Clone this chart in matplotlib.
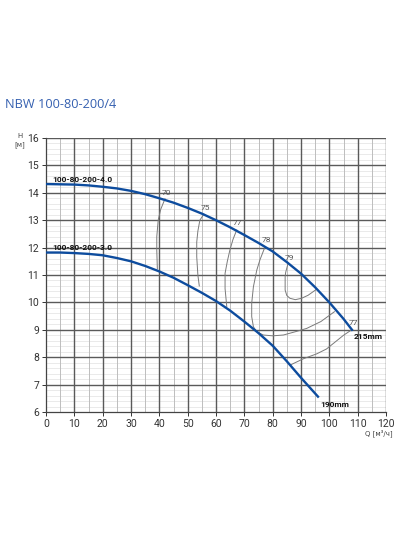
import matplotlib
matplotlib.use("Agg")
import matplotlib.pyplot as plt
import numpy as np

# ---- data ----
q_215 = [0, 5, 10, 15, 20, 25, 30, 35, 40, 45, 50, 55, 60, 65, 70, 75, 80, 85, 90, 95, 100, 105, 108]
h_215 = [14.32, 14.31, 14.3, 14.27, 14.22, 14.16, 14.07, 13.95, 13.8, 13.64, 13.45, 13.24, 13.0,
         12.74, 12.46, 12.17, 11.86, 11.47, 11.05, 10.55, 10.0, 9.4, 9.0]
q_190 = [0, 5, 10, 15, 20, 25, 30, 35, 40, 45, 50, 55, 60, 65, 70, 75, 80, 85, 90, 96]
h_190 = [11.82, 11.82, 11.8, 11.77, 11.72, 11.62, 11.5, 11.33, 11.13, 10.9, 10.63, 10.35, 10.05,
         9.7, 9.3, 8.88, 8.42, 7.85, 7.25, 6.56]

eff_70_q = [42.0, 40.5, 39.6, 39.1, 39.1, 39.3]
eff_70_h = [13.78, 13.4, 13.0, 12.4, 11.9, 11.22]
eff_75_q = [55.7, 54.3, 53.6, 53.2, 53.2, 53.6, 54.1]
eff_75_h = [13.22, 13.0, 12.6, 12.2, 11.67, 11.0, 10.6]
eff_77a_q = [67.3, 66.0, 64.9, 64.0, 63.2, 63.2, 63.8]
eff_77a_h = [12.64, 12.3, 11.91, 11.5, 11.06, 10.5, 9.85]
eff_78_q = [77.3, 75.5, 74.4, 73.2, 72.6, 72.6, 73.2, 74.4, 76.7, 80, 83.8, 88, 92.0, 97, 101.8]
eff_78_h = [12.03, 11.55, 11.18, 10.57, 9.97, 9.48, 9.11, 8.93, 8.81, 8.78, 8.81, 8.93, 9.05, 9.3, 9.66]
eff_79_q = [85.5, 84.6, 84.4, 84.4, 85.0, 86.1, 88, 90.2, 92.5, 95.5]
eff_79_h = [11.45, 11.1, 10.94, 10.45, 10.25, 10.15, 10.1, 10.15, 10.26, 10.48]
eff_77b_q = [107.9, 105, 102.6, 99, 95.5, 91, 86.3]
eff_77b_h = [9.0, 8.8, 8.6, 8.3, 8.12, 7.95, 7.72]

eff_labels = ["70", "75", "77", "78", "79", "77"]
eff_label_q = [42.4, 56.1, 67.4, 77.7, 85.8, 108.4]
eff_label_h = [14.0, 13.45, 12.9, 12.28, 11.62, 9.25]

x_ticks = list(range(0, 121, 10))
y_ticks = list(range(6, 17))

# ---- figure ----
fig = plt.figure(figsize=(4.0, 5.34), dpi=100)
ax = fig.add_axes([46/400, 1-412/534, 340/400, 274/534])
ax.set_xlim(0, 120)
ax.set_ylim(6, 16)

# grid
for x in np.arange(5, 120, 10):
    ax.axvline(x, color="#bdbdbd", lw=0.7, zorder=1)
for y in np.arange(6, 16.01, 0.2):
    ax.axhline(y, color="#e6e6e6", lw=0.6, zorder=0.5)
for x in x_ticks[1:]:
    ax.axvline(x, color="#5a5a5a", lw=1.0, zorder=1.5)
for y in y_ticks[1:]:
    ax.axhline(y, color="#5a5a5a", lw=1.0, zorder=1.5)

for s in ["top", "right"]:
    ax.spines[s].set_visible(False)
for s in ["left", "bottom"]:
    ax.spines[s].set_color("#444444")
    ax.spines[s].set_linewidth(0.9)

ax.set_xticks(x_ticks)
ax.set_yticks(y_ticks)
ax.tick_params(axis="both", labelsize=7.5, colors="#333333", length=3, width=0.7, pad=2)
for lab in ax.get_xticklabels() + ax.get_yticklabels():
    lab.set_family("Roboto")

# efficiency curves
gcol = "#7a7a7a"
for qq, hh in [(eff_70_q, eff_70_h), (eff_75_q, eff_75_h), (eff_77a_q, eff_77a_h),
               (eff_78_q, eff_78_h), (eff_79_q, eff_79_h), (eff_77b_q, eff_77b_h)]:
    ax.plot(qq, hh, color=gcol, lw=0.7, zorder=3)
for lab, lq, lh in zip(eff_labels, eff_label_q, eff_label_h):
    ax.text(lq, lh, lab, fontsize=6, color="#555555", ha="center", va="center",
            family="Roboto", zorder=4)

# pump curves
bcol = "#0d4c9e"
ax.plot(q_215, h_215, color=bcol, lw=1.7, zorder=5)
ax.plot(q_190, h_190, color=bcol, lw=1.7, zorder=5)

lab_kw = dict(fontsize=6.0, fontweight="bold", color="#111111", family="Roboto",
              ha="left", va="center", zorder=6)
ax.text(2.2, 14.5, "100-80-200-4.0", **lab_kw)
ax.text(2.2, 12.01, "100-80-200-3.0", **lab_kw)
ax.text(108.7, 8.74, "215mm", **lab_kw)
ax.text(96.7, 6.29, "190mm", **lab_kw)

# axis captions
fig.text(20/400, 1-136/534, "H", fontsize=5, color="#444444", ha="center", va="center")
fig.text(20/400, 1-145/534, "[м]", fontsize=5, color="#444444", ha="center", va="center")
fig.text(393/400, 1-433/534, "Q [м³/ч]", fontsize=5, color="#444444", ha="right", va="center")

# title
fig.text(5/400, 1-104/534, "NBW 100-80-200/4", fontsize=9.2, color="#3560b0",
         family="Open Sans", ha="left", va="center")

fig.savefig("out.png", dpi=100, facecolor="white")
